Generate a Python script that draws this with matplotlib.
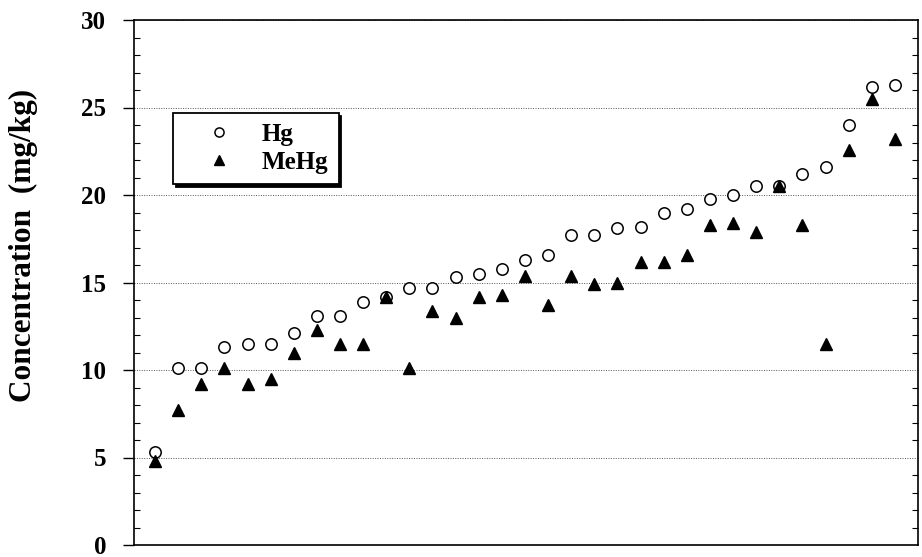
import matplotlib
matplotlib.use("Agg")
import matplotlib.pyplot as plt
from matplotlib.ticker import MultipleLocator

sample = list(range(1, 34))
hg = [5.3, 10.1, 10.1, 11.3, 11.5, 11.5, 12.1, 13.1, 13.1, 13.9, 14.2,
      14.7, 14.7, 15.3, 15.5, 15.8, 16.3, 16.6, 17.7, 17.7, 18.1, 18.2,
      19.0, 19.2, 19.8, 20.0, 20.5, 20.5, 21.2, 21.6, 24.0, 26.2, 26.3]
mehg = [4.8, 7.7, 9.2, 10.1, 9.2, 9.5, 11.0, 12.3, 11.5, 11.5, 14.2,
        10.1, 13.4, 13.0, 14.2, 14.3, 15.4, 13.7, 15.4, 14.9, 15.0, 16.2,
        16.2, 16.6, 18.3, 18.4, 17.9, 20.5, 18.3, 11.5, 22.6, 25.5, 23.2]
yticks = [0, 5, 10, 15, 20, 25, 30]

serif = ["Liberation Serif", "DejaVu Serif"]

fig = plt.figure(figsize=(9.22, 5.57), dpi=100)
ax = fig.add_axes([134/922, 12/557, 784/922, 525/557])

ax.plot(sample, hg, linestyle="none", marker="o", markersize=8.2,
        markerfacecolor="white", markeredgecolor="black", markeredgewidth=1.1,
        label="Hg", zorder=3)
ax.plot(sample, mehg, linestyle="none", marker="^", markersize=9,
        color="black", label="MeHg", zorder=4)

ax.set_xlim(0.09, 34.0)
ax.set_ylim(0, 30)
ax.set_xticks([])
ax.set_yticks(yticks)
ax.yaxis.set_minor_locator(MultipleLocator(1))
ax.tick_params(axis="y", which="major", direction="out", length=8, width=1,
               pad=12, labelsize=18, right=False)
ax.tick_params(axis="y", which="minor", direction="in", length=4, width=0.8,
               left=True, right=True)
for lab in ax.get_yticklabels():
    lab.set_fontfamily(serif)
    lab.set_fontweight("bold")

ax.grid(axis="y", which="major", linestyle=(0, (1, 1.5)), color="#555555",
        linewidth=0.7)
for s in ax.spines.values():
    s.set_linewidth(1.2)

ax.set_ylabel("Concentration  (mg/kg)", fontsize=22.5, fontweight="bold",
              family=serif)
ax.yaxis.set_label_coords(-0.122, 0.571)

leg = ax.legend(loc="upper left", bbox_to_anchor=(0.05, 0.823),
                prop={"family": serif, "weight": "bold", "size": 18},
                frameon=True, fancybox=False, framealpha=1,
                edgecolor="black", markerscale=0.8, handlelength=2.9,
                handletextpad=0.25, borderpad=0.4, borderaxespad=0,
                labelspacing=0.2,
                shadow={"color": "black", "alpha": 1})
leg.get_frame().set_linewidth(1.3)
leg.set_zorder(5)

fig.savefig("out.png", dpi=100)
